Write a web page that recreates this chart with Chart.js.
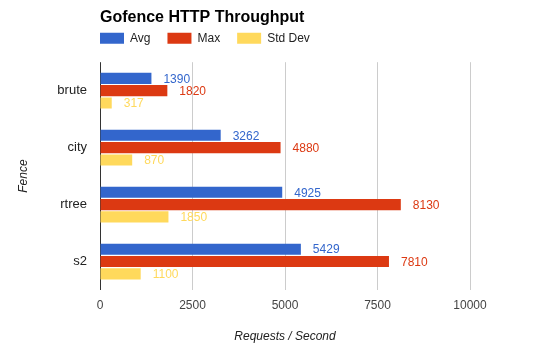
<!DOCTYPE html>
<html>
<head>
<meta charset="utf-8">
<script src="https://cdn.jsdelivr.net/npm/chart.js@4/dist/chart.umd.min.js"></script>
<style>
    html, body { margin: 0; padding: 0; background: #fff; }
    #wrap { width: 537px; height: 364px; }
</style>
</head>
<body>
<div id="wrap"><canvas id="chart" width="537" height="364"></canvas></div>
<script>
// Data.
const categories = ['brute', 'city', 'rtree', 's2'];
const avg_values = [1390, 3262, 4925, 5429];
const max_values = [1820, 4880, 8130, 7810];
const std_dev_values = [317, 870, 1850, 1100];
const x_ticks = [0, 2500, 5000, 7500, 10000];

Chart.defaults.font.family = 'Arial, "Liberation Sans", sans-serif';
Chart.defaults.font.size = 12;

// Value labels next to each bar.
const value_labels = {
    id: 'value_labels',
    afterDatasetsDraw(chart) {
        const ctx = chart.ctx;
        ctx.save();
        ctx.font = '12px Arial, "Liberation Sans", sans-serif';
        ctx.textBaseline = 'middle';
        ctx.textAlign = 'left';
        chart.data.datasets.forEach((ds, i) => {
            const meta = chart.getDatasetMeta(i);
            ctx.fillStyle = ds.backgroundColor;
            meta.data.forEach((bar, j) => {
                ctx.fillText(String(ds.data[j]), bar.x + 12, bar.y + 1);
            });
        });
        ctx.restore();
    }
};

// Move title and legend so they line up like the original.
const header_shift = {
    id: 'header_shift',
    afterLayout(chart) {
        const tb = chart.titleBlock;
        tb.top += 4;
        tb.bottom += 4;
        const lg = chart.legend;
        lg.left -= 17;
        lg.right -= 17;
        lg.top -= 8;
        lg.bottom -= 8;
    }
};

const config = {
    type: 'bar',
    data: {
        labels: categories,
        datasets: [
            { label: 'Avg', data: avg_values, backgroundColor: '#3366cc' },
            { label: 'Max', data: max_values, backgroundColor: '#dc3912' },
            { label: 'Std Dev', data: std_dev_values, backgroundColor: '#ffd95c' },
        ]
    },
    options: {
        indexAxis: 'y',
        responsive: false,
        animation: false,
        categoryPercentage: 0.65,
        barPercentage: 0.9,
        layout: { padding: { left: 0, right: 67, top: 0, bottom: 0 } },
        plugins: {
            title: {
                display: true,
                text: 'Gofence HTTP Throughput',
                align: 'start',
                fullSize: false,
                color: '#000',
                font: { size: 16, weight: 'bold' },
                padding: { top: 4, bottom: 0 },
            },
            legend: {
                display: true,
                align: 'start',
                fullSize: false,
                labels: {
                    boxWidth: 24,
                    boxHeight: 11,
                    padding: 17,
                    color: '#222',
                    font: { size: 12 },
                },
            },
            tooltip: { enabled: false },
        },
        scales: {
            x: {
                min: 0,
                max: 10000,
                afterBuildTicks: (scale) => {
                    scale.ticks = x_ticks.map(v => ({ value: v }));
                },
                afterFit: (scale) => { scale.height = 74; },
                grid: {
                    color: (c) => c.tick && c.tick.value === 0 ? '#333' : '#ccc',
                    drawTicks: false,
                },
                border: { display: false },
                ticks: {
                    color: '#444',
                    padding: 8,
                    font: { size: 12 },
                    callback: (v) => String(v),
                },
                title: {
                    display: true,
                    text: 'Requests / Second',
                    color: '#222',
                    font: { size: 12, style: 'italic' },
                    padding: { top: 0, bottom: 20 },
                },
            },
            y: {
                afterFit: (scale) => { scale.width = 100; },
                grid: { display: false, drawTicks: false },
                border: { display: false },
                ticks: { color: '#222', padding: 13, font: { size: 13 } },
                title: {
                    display: true,
                    text: 'Fence',
                    color: '#222',
                    font: { size: 12, style: 'italic' },
                    padding: { top: 16, bottom: 0 },
                },
            },
        },
    },
    plugins: [value_labels, header_shift],
};

window.myChart = new Chart(document.getElementById('chart'), config);
</script>
</body>
</html>
